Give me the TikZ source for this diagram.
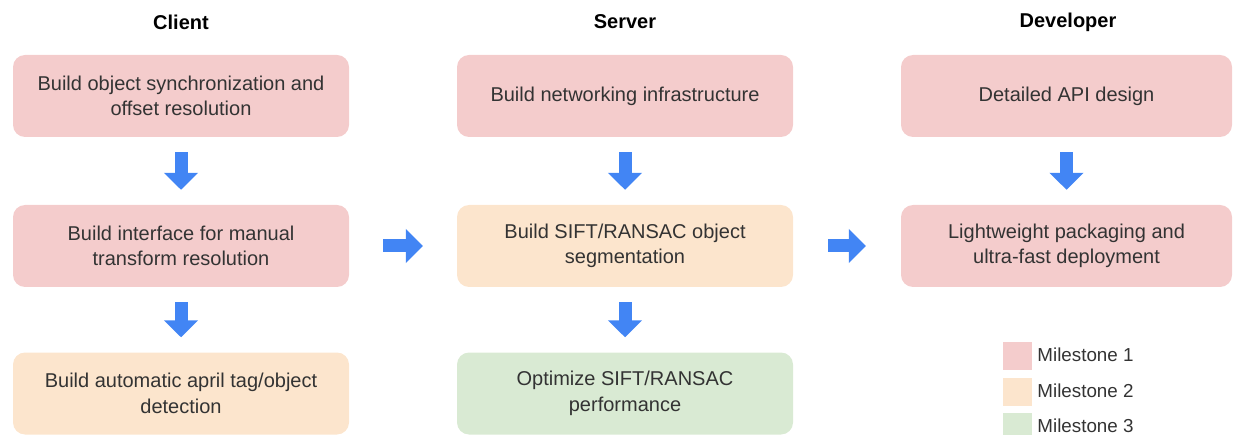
\documentclass[tikz,border=0pt]{standalone}
\usepackage{fontspec}
\setmainfont{Liberation Sans}
\usetikzlibrary{arrows.meta,positioning}

\definecolor{msone}{HTML}{F4CCCC}
\definecolor{mstwo}{HTML}{FCE5CD}
\definecolor{msthree}{HTML}{D9EAD3}
\definecolor{flowblue}{HTML}{4285F4}
\definecolor{boxtext}{HTML}{333333}

\tikzset{
  task/.style={rounded corners=12pt,minimum width=336pt,minimum height=82pt,
    align=center,inner sep=0pt,text=boxtext,
    font=\fontsize{20}{25.5}\selectfont},
  header/.style={font=\fontsize{20}{24}\selectfont\bfseries},
  flow/.style={flowblue,line width=13pt,-{Triangle[width=33pt,length=17pt]}},
  swatch/.style={minimum width=29pt,minimum height=28pt,inner sep=0pt},
  legendtext/.style={text=boxtext,inner sep=0pt,font=\fontsize{18.8}{22}\selectfont}
}

\begin{document}
\begin{tikzpicture}[x=1pt,y=-1pt]
	\useasboundingbox (0,0) rectangle (1233,435);

	\node[header] (hclient) at (181,22) {Client};
	\node[header] (hserver) at (625,22) {Server};
	\node[header] (hdev) at (1068,22) {Developer};

	\node[task,fill=msone] (c1) at (181,96) {Build object synchronization and\\offset resolution};
	\node[task,fill=msone] (c2) at (181,246) {Build interface for manual\\transform resolution};
	\node[task,fill=mstwo] (c3) at (181,393.5) {Build automatic april tag/object\\detection};

	\node[task,fill=msone] (s1) at (625,96) {Build networking infrastructure};
	\node[task,fill=mstwo] (s2) at (625,246) {Build SIFT/RANSAC object\\segmentation};
	\node[task,fill=msthree] (s3) at (625,393.5) {Optimize SIFT/RANSAC\\performance};

	\node[task,fill=msone,minimum width=331pt] (d1) at (1066.5,96) {Detailed API design};
	\node[task,fill=msone,minimum width=331pt] (d2) at (1066.5,246) {Lightweight packaging and\\ultra-fast deployment};

	\draw[flow,shorten <=15pt,shorten >=15pt] (c1) -- (c2);
	\draw[flow,shorten <=15pt,shorten >=15pt] (c2) -- (c3);
	\draw[flow,shorten <=15pt,shorten >=15pt] (s1) -- (s2);
	\draw[flow,shorten <=15pt,shorten >=15pt] (s2) -- (s3);
	\draw[flow,shorten <=15pt,shorten >=15pt] (d1) -- (d2);
	\draw[flow,shorten <=34pt,shorten >=34pt] (c2) -- (s2);
	\draw[flow,shorten <=35pt,shorten >=35pt] (s2) -- (d2);

	% legend
	\node[swatch,fill=msone] (l1) at (1017.5,356) {};
	\node[swatch,fill=mstwo] (l2) at (1017.5,392) {};
	\node[swatch,fill=msthree] (l3) at (1017.5,427) {};
	\node[legendtext,right=5pt of l1,yshift=1pt] (t1) {Milestone 1};
	\node[legendtext,right=5pt of l2,yshift=1pt] (t2) {Milestone 2};
	\node[legendtext,right=5pt of l3,yshift=1pt] (t3) {Milestone 3};
\end{tikzpicture}
\end{document}
